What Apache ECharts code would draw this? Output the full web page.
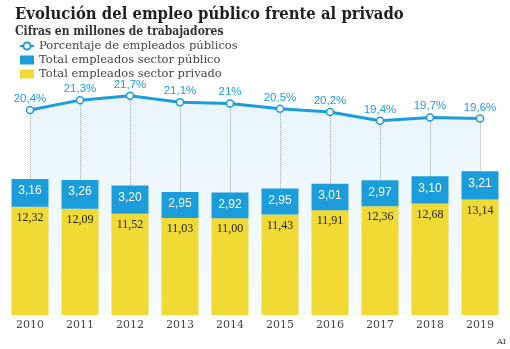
<!DOCTYPE html>
<html>
<head>
<meta charset="utf-8">
<script src="https://cdn.jsdelivr.net/npm/echarts@6/dist/echarts.min.js"></script>
<style>
  html, body { margin: 0; padding: 0; background: #fff; }
  #chart { width: 510px; height: 349px; }
</style>
</head>
<body>
<div id="chart"></div>
<script>
// Años representados
const years = ['2010', '2011', '2012', '2013', '2014', '2015', '2016', '2017', '2018', '2019'];
// Porcentaje de empleados públicos sobre el total
const pctPublic = [20.4, 21.3, 21.7, 21.1, 21, 20.5, 20.2, 19.4, 19.7, 19.6];
// Millones de trabajadores en el sector público
const publicWorkers = [3.16, 3.26, 3.20, 2.95, 2.92, 2.95, 3.01, 2.97, 3.10, 3.21];
// Millones de trabajadores en el sector privado
const privateWorkers = [12.32, 12.09, 11.52, 11.03, 11.00, 11.43, 11.91, 12.36, 12.68, 13.14];

const BLUE = '#1b9ddc';
const YELLOW = '#f0da33';
const PCT_MIN = 1.5;

const fmt2 = v => v.toFixed(2).replace('.', ',');
const fmtPct = v => String(v).replace('.', ',') + '%';

const chart = echarts.init(document.getElementById('chart'), null, { renderer: 'canvas' });

chart.setOption({
  animation: false,
  backgroundColor: '#ffffff',
  title: {
    text: 'Evolución del empleo público frente al privado',
    subtext: 'Cifras en millones de trabajadores',
    left: 10,
    top: 1,
    itemGap: 3,
    textStyle: { fontFamily: 'DejaVu Serif Condensed, DejaVu Serif', fontWeight: 'bold', fontSize: 16.5, color: '#1e1e1e' },
    subtextStyle: { fontFamily: 'DejaVu Serif Condensed, DejaVu Serif', fontWeight: 'bold', fontSize: 12, color: '#333' }
  },
  legend: {
    orient: 'vertical',
    left: 14,
    top: 35,
    itemGap: 2,
    itemWidth: 14,
    itemHeight: 9,
    textStyle: { fontFamily: 'DejaVu Serif', fontSize: 11.5, color: '#444' },
    data: [
      { name: 'Porcentaje de empleados públicos' },
      { name: 'Total empleados sector público', icon: 'rect' },
      { name: 'Total empleados sector privado', icon: 'rect' }
    ]
  },
  grid: { left: 5, right: 5, top: 60, bottom: 34 },
  xAxis: {
    type: 'category',
    data: years,
    axisLine: { show: false },
    axisTick: { show: false },
    axisLabel: { margin: 5, fontFamily: 'DejaVu Serif', fontSize: 11, color: '#444' }
  },
  yAxis: [
    { type: 'value', min: 0, max: 29, show: false },
    { type: 'value', min: PCT_MIN, max: 25, show: false }
  ],
  series: [
    {
      name: 'Porcentaje de empleados públicos',
      type: 'line',
      yAxisIndex: 1,
      z: 1,
      data: pctPublic,
      color: BLUE,
      symbol: 'circle',
      symbolSize: 7,
      lineStyle: { color: BLUE, width: 3 },
      itemStyle: { color: '#fff', borderColor: BLUE, borderWidth: 1.5 },
      areaStyle: {
        color: new echarts.graphic.LinearGradient(0, 0, 0, 1, [
          { offset: 0, color: 'rgba(27,157,220,0.14)' },
          { offset: 1, color: 'rgba(27,157,220,0.05)' }
        ])
      },
      label: {
        show: true,
        position: 'top',
        distance: 1,
        formatter: p => fmtPct(p.value),
        fontFamily: 'Liberation Sans Narrow, Liberation Sans',
        fontSize: 11.5,
        color: BLUE
      },
      markLine: {
        silent: true,
        z: 0,
        symbol: 'none',
        label: { show: false },
        lineStyle: { color: '#a9a9a9', type: 'dotted', width: 1 },
        data: pctPublic.map((v, i) => [{ coord: [i, v] }, { coord: [i, PCT_MIN] }])
      }
    },
    {
      name: 'Total empleados sector privado',
      type: 'bar',
      stack: 'total',
      z: 3,
      barWidth: 37,
      data: privateWorkers,
      itemStyle: { color: YELLOW },
      label: {
        show: true,
        position: 'insideTop',
        distance: 5,
        formatter: p => fmt2(p.value),
        fontFamily: 'Liberation Serif',
        fontSize: 12,
        color: '#222'
      }
    },
    {
      name: 'Total empleados sector público',
      type: 'bar',
      stack: 'total',
      z: 3,
      barWidth: 37,
      data: publicWorkers,
      itemStyle: { color: BLUE },
      label: {
        show: true,
        position: 'insideTop',
        distance: 6,
        formatter: p => fmt2(p.value),
        fontFamily: 'Liberation Sans Narrow, Liberation Sans',
        fontSize: 12,
        color: '#fff'
      }
    }
  ],
  graphic: [
    {
      type: 'text',
      right: 4,
      bottom: 3,
      style: { text: 'AI', fontFamily: 'DejaVu Serif', fontSize: 8, fill: '#333' }
    }
  ]
});
</script>
</body>
</html>
